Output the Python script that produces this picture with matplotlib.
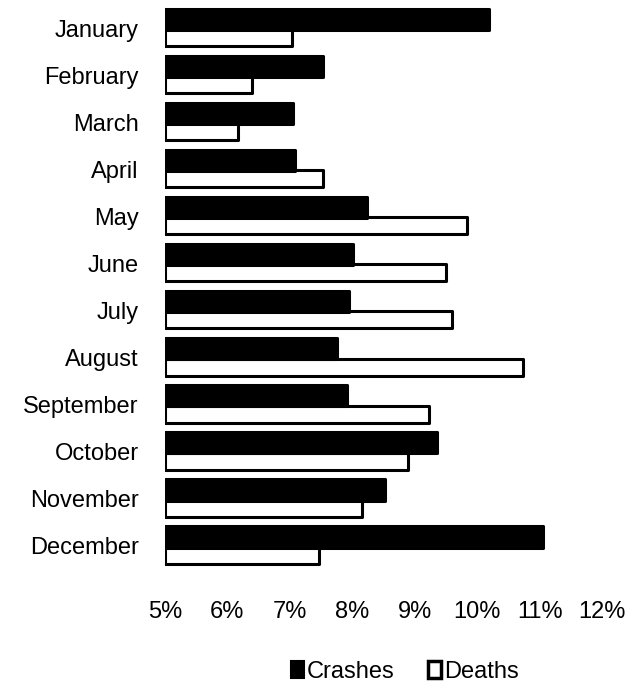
import matplotlib
matplotlib.use("Agg")
import matplotlib.pyplot as plt
from matplotlib.patches import Patch
from matplotlib.ticker import FuncFormatter

months = ["January", "February", "March", "April", "May", "June", "July",
          "August", "September", "October", "November", "December"]
crashes = [10.19, 7.53, 7.05, 7.08, 8.24, 8.01, 7.95, 7.76, 7.92, 9.36, 8.53, 11.06]
deaths = [7.04, 6.39, 6.17, 7.53, 9.84, 9.50, 9.60, 10.74, 9.23, 8.90, 8.16, 7.47]
xticks = [5, 6, 7, 8, 9, 10, 11, 12]

plt.rcParams['font.family'] = ['Liberation Sans', 'DejaVu Sans']

fig = plt.figure(figsize=(6.29, 6.87), dpi=100)
ax = fig.add_axes([165/629, 1 - 569.5/687, (602-165)/629, 565/687])

base = 5
y = list(range(len(months)))
yd = [v + 0.2 for v in y]
yc = [v - 0.19 for v in y]
ax.barh(yd, [d - base for d in deaths], left=base, height=0.36,
        color='white', edgecolor='black', linewidth=2.2, joinstyle='round', zorder=2)
ax.barh(yc, [c - base for c in crashes], left=base, height=0.45,
        color='black', edgecolor='black', linewidth=2.2, joinstyle='round', zorder=3)

ax.set_xlim(5, 12)
ax.set_ylim(11.5, -0.5)
ax.set_xticks(xticks)
ax.xaxis.set_major_formatter(FuncFormatter(lambda v, p: f"{v:.0f}%"))
ax.set_yticks(y)
ax.set_yticklabels(months)
ax.tick_params(axis='both', length=0, labelsize=17)
ax.tick_params(axis='y', pad=19)
ax.tick_params(axis='x', pad=23)
for s in ax.spines.values():
    s.set_visible(False)

handles = [Patch(facecolor='black', edgecolor='black', linewidth=1.5),
           Patch(facecolor='white', edgecolor='black', linewidth=2.5)]
fig.legend(handles, ["Crashes", "Deaths"], loc='center', bbox_to_anchor=(405/629, 1 - 672/687),
           ncol=2, frameon=False, fontsize=17, handlelength=0.55, handleheight=0.7,
           handletextpad=0.15, columnspacing=1.4, borderpad=0)

fig.savefig("out.png", dpi=100)
